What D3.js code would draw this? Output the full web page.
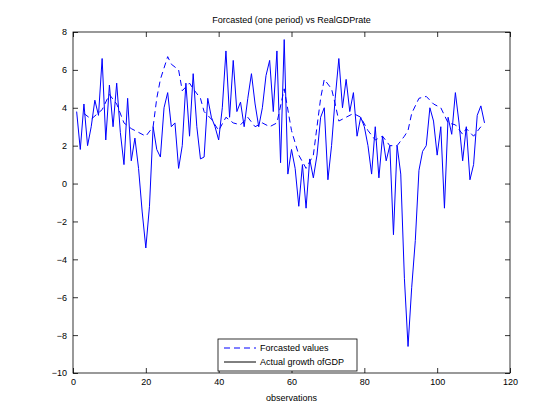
<!DOCTYPE html>
<html><head><meta charset="utf-8">
<script src="https://cdn.jsdelivr.net/npm/d3@7"></script>
<style>body{margin:0;background:#fff}text{font-family:"Liberation Sans",Arial,sans-serif}</style>
</head><body>
<script>
// actual growth of GDP, observations 1..112
const actual = [3.8,1.8,4.2,2.0,3.0,4.4,3.6,6.6,2.3,5.2,3.0,5.3,2.7,1.0,4.5,1.2,2.4,0.8,-1.5,-3.4,
  -1.2,3.0,1.8,1.4,4.0,4.8,3.0,3.2,0.8,2.0,5.3,2.5,5.8,3.0,1.3,1.4,4.5,3.5,3.0,2.3,
  4.0,7.0,3.5,6.5,3.8,4.3,3.0,4.5,5.8,4.2,3.0,4.0,5.7,6.5,3.8,7.0,1.1,7.6,0.5,1.8,
  0.8,-1.2,1.0,-1.3,1.3,0.3,1.5,3.5,4.0,0.2,2.0,4.5,6.6,4.0,5.5,3.8,4.8,2.5,3.5,3.0,
  2.0,0.5,3.0,0.3,2.5,1.2,2.0,-2.7,2.0,0.5,-5.0,-8.6,-5.5,-3.0,0.7,1.7,2.0,4.0,3.3,1.5,
  3.0,-1.3,3.5,2.6,4.8,3.2,1.2,3.0,0.2,1.0,3.6,4.1,3.2];
// forecasted values (observation, value)
const forecastX = [3,5,8,10,12,14,16,18,20,22,23,24,26,27,29,30,32,33,35,36,38,40,42,44,46,48,50,52,54,56,58,60,62,64,66,68,69,71,72,73,75,77,79,81,83,85,87,89,91,92,93,95,97,99,101,103,105,107,108,110,112];
const forecastY = [3.7,3.4,3.9,4.7,4.2,3.2,2.9,2.7,2.5,3.0,4.5,5.5,6.7,6.3,6.0,4.9,5.3,5.0,4.5,3.8,3.4,2.8,3.5,3.2,3.1,3.5,3.0,3.2,3.0,3.2,5.0,2.8,1.5,0.8,1.5,4.5,5.5,5.0,4.2,3.3,3.5,3.7,3.5,2.8,2.3,2.5,2.0,2.0,2.5,2.8,3.7,4.5,4.6,4.2,4.0,3.2,3.1,2.6,2.9,2.5,3.0];
const xTicks = [0,20,40,60,80,100,120];
const yTicks = [-10,-8,-6,-4,-2,0,2,4,6,8];

const W = 560, H = 420, L = 73, R = 510, T = 32, B = 373;
const svg = d3.select("body").append("svg").attr("width", W).attr("height", H);
const x = d3.scaleLinear().domain([0,120]).range([L,R]);
const y = d3.scaleLinear().domain([-10,8]).range([B,T]);

svg.append("rect").attr("x",L).attr("y",T).attr("width",R-L).attr("height",B-T)
  .attr("fill","#fff").attr("stroke","#000").attr("stroke-width",0.8);

const ax = (g) => g.selectAll("text").attr("font-size",9).attr("fill","#000");
svg.append("g").attr("transform",`translate(0,${B})`)
  .call(d3.axisBottom(x).tickValues(xTicks).tickSize(-5).tickPadding(6)).call(ax).call(g=>g.select(".domain").remove());
svg.append("g").attr("transform",`translate(0,${T})`)
  .call(d3.axisTop(x).tickValues(xTicks).tickSize(-5).tickFormat("")).call(g=>g.select(".domain").remove());
svg.append("g").attr("transform",`translate(${L},0)`)
  .call(d3.axisLeft(y).tickValues(yTicks).tickSize(-5).tickPadding(6)).call(ax).call(g=>g.select(".domain").remove());
svg.append("g").attr("transform",`translate(${R},0)`)
  .call(d3.axisRight(y).tickValues(yTicks).tickSize(-5).tickFormat("")).call(g=>g.select(".domain").remove());
svg.selectAll(".tick line").attr("stroke-width",0.8);

const line = d3.line().x(d=>x(d[0])).y(d=>y(d[1]));
svg.append("path").datum(forecastX.map((v,i)=>[v,forecastY[i]]))
  .attr("d",line).attr("fill","none").attr("stroke","#0000ff").attr("stroke-width",1).attr("stroke-dasharray","6,4");
svg.append("path").datum(actual.map((v,i)=>[i+1,v]))
  .attr("d",line).attr("fill","none").attr("stroke","#0000ff").attr("stroke-width",1);

svg.append("text").attr("x",(L+R)/2).attr("y",23).attr("text-anchor","middle").attr("font-size",9)
  .text("Forcasted (one period) vs RealGDPrate");
svg.append("text").attr("x",(L+R)/2).attr("y",401).attr("text-anchor","middle").attr("font-size",9)
  .text("observations");

const lg = svg.append("g").attr("transform","translate(218,339)");
lg.append("rect").attr("width",139).attr("height",32).attr("fill","#fff").attr("stroke","#000").attr("stroke-width",0.8);
lg.append("line").attr("x1",6).attr("x2",38).attr("y1",9).attr("y2",9).attr("stroke","#0000ff").attr("stroke-dasharray","6,4");
lg.append("line").attr("x1",6).attr("x2",38).attr("y1",23).attr("y2",23).attr("stroke","#000");
lg.append("text").attr("x",42).attr("y",12).attr("font-size",9).text("Forcasted values");
lg.append("text").attr("x",42).attr("y",26).attr("font-size",9).text("Actual growth ofGDP");
</script>
</body></html>
